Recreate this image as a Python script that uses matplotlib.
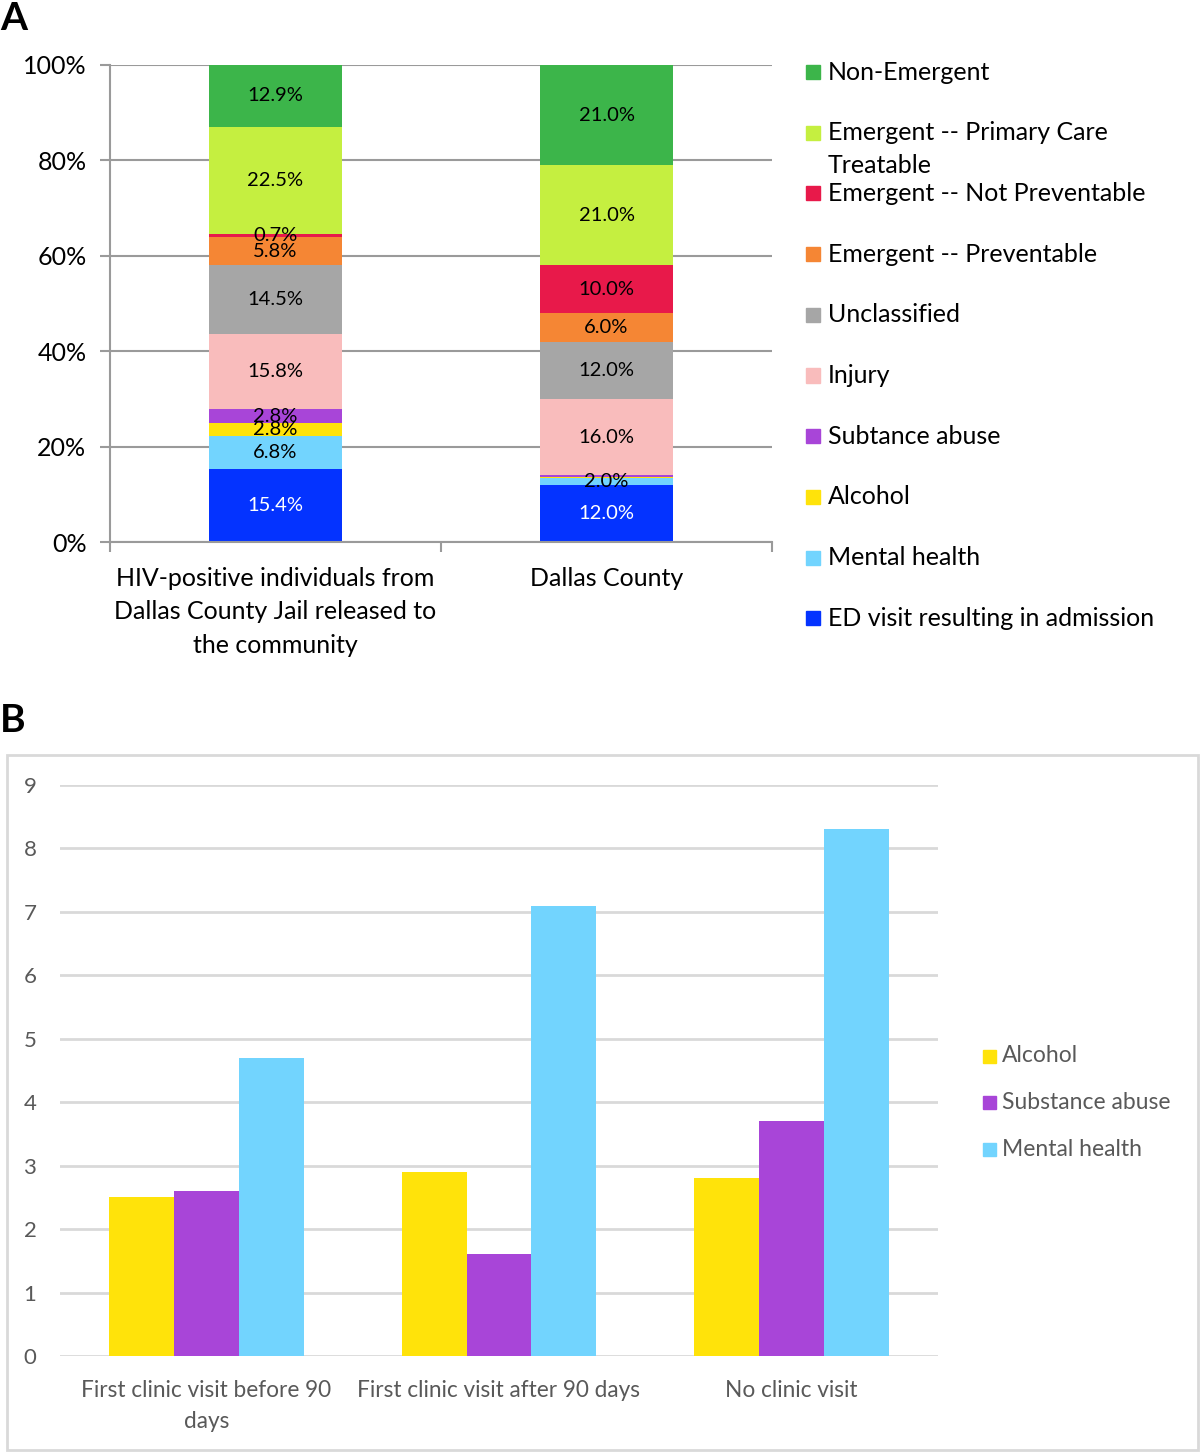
import matplotlib
matplotlib.use("Agg")
import matplotlib.pyplot as plt
import numpy as np
from matplotlib.patches import Rectangle

plt.rcParams["font.family"] = ["Lato", "DejaVu Sans"]

# ---- panel A data (bottom to top) ----
a_groups = ["HIV-positive individuals from\nDallas County Jail released to\nthe community",
            "Dallas County"]
a_cats = ["ED visit resulting in admission", "Mental health", "Alcohol", "Subtance abuse",
          "Injury", "Unclassified", "Emergent -- Preventable", "Emergent -- Not Preventable",
          "Emergent -- Primary Care\nTreatable", "Non-Emergent"]
a_colors = ["#0433ff", "#72d4fe", "#ffe30a", "#a845d8", "#f9bcbc", "#a6a6a6",
            "#f58634", "#e8194a", "#c5ef40", "#3cb54a"]
hiv_vals = [15.4, 6.8, 2.8, 2.8, 15.8, 14.5, 5.8, 0.7, 22.5, 12.9]
dallas_vals = [12.0, 1.4, 0.3, 0.3, 16.0, 12.0, 6.0, 10.0, 21.0, 21.0]
hiv_labels = ["15.4%", "6.8%", "2.8%", "2.8%", "15.8%", "14.5%", "5.8%", "0.7%", "22.5%", "12.9%"]
dallas_labels = ["12.0%", "2.0%", None, None, "16.0%", "12.0%", "6.0%", "10.0%", "21.0%", "21.0%"]

# ---- panel B data ----
b_groups = ["First clinic visit before 90\ndays", "First clinic visit after 90 days", "No clinic visit"]
b_series = ["Alcohol", "Substance abuse", "Mental health"]
b_colors = ["#ffe30a", "#a845d8", "#72d4fe"]
alcohol = [2.5, 2.9, 2.8]
substance = [2.6, 1.6, 3.7]
mental = [4.7, 7.1, 8.3]

W, H = 1200, 1452
fig = plt.figure(figsize=(W / 100, H / 100), dpi=100)


def fx(px):
    return px / W


def fy(py):
    return 1 - py / H


def legend_entry(xsq, yc, size, color, label, fontsize, tcolor, gap):
    # square marker plus text, positioned in pixels of the figure
    fig.add_artist(Rectangle((fx(xsq), fy(yc + size / 2)), fx(size), fy(yc - size / 2) - fy(yc + size / 2),
                             transform=fig.transFigure, color=color))
    fig.text(fx(xsq + size + gap), fy(yc), label, ha="left", va="center",
             fontsize=fontsize, color=tcolor)


# ================= Panel A =================
axA = fig.add_axes([fx(110), fy(542), fx(772) - fx(110), fy(65) - fy(542)])
x = np.arange(len(a_groups))
bottoms = np.zeros(len(a_groups))
for i, cat in enumerate(a_cats):
    vals = np.array([hiv_vals[i], dallas_vals[i]])
    axA.bar(x, vals, 0.40, bottom=bottoms, color=a_colors[i], zorder=2)
    for j, lab in enumerate([hiv_labels[i], dallas_labels[i]]):
        if lab is None:
            continue
        axA.text(x[j], bottoms[j] + vals[j] / 2, lab, ha="center", va="center",
                 fontsize=14.5, color="white" if i == 0 else "black", zorder=3)
    bottoms += vals

axA.set_xlim(-0.5, 1.5)
axA.set_ylim(0, 100)
axA.set_yticks(np.arange(0, 101, 20))
axA.set_yticklabels([f"{v}%" for v in range(0, 101, 20)], fontsize=18)
axA.grid(axis="y", color="#9a9a9a", linewidth=1.5, zorder=0)
axA.set_xticks(x)
axA.set_xticklabels(a_groups, fontsize=18, linespacing=1.55)
axA.set_xticks([-0.5, 0.5, 1.5], minor=True)
axA.tick_params(axis="x", which="major", length=0, pad=18)
axA.tick_params(axis="x", which="minor", length=7, width=1.5, color="#9a9a9a")
axA.tick_params(axis="y", length=7, width=1.5, color="#9a9a9a", pad=10)
for s in ["top", "right"]:
    axA.spines[s].set_visible(False)
for s in ["left", "bottom"]:
    axA.spines[s].set_color("#9a9a9a")
    axA.spines[s].set_linewidth(1.5)

# legend for A (top entry first)
leg_y0, leg_dy = 72, 60.7
for k, idx in enumerate(range(len(a_cats) - 1, -1, -1)):
    yc = leg_y0 + k * leg_dy
    label = a_cats[idx]
    if "\n" in label:
        # two-line entry: first line centred on marker
        first, second = label.split("\n")
        legend_entry(806, yc, 14, a_colors[idx], first, 18, "black", 8)
        fig.text(fx(828), fy(yc + 33), second, ha="left", va="center", fontsize=18)
    else:
        legend_entry(806, yc, 14, a_colors[idx], label, 18, "black", 8)

fig.text(fx(0), fy(18), "A", fontsize=28, fontweight="bold", va="center", ha="left")
fig.text(fx(0), fy(720), "B", fontsize=28, fontweight="bold", va="center", ha="left")

# ================= Panel B =================
fig.add_artist(Rectangle((fx(7), fy(1450)), fx(1198) - fx(7), fy(755) - fy(1450),
                         transform=fig.transFigure, fill=False, edgecolor="#d9d9d9", linewidth=2))
axB = fig.add_axes([fx(60), fy(1356), fx(938) - fx(60), fy(785) - fy(1356)])
xb = np.arange(len(b_groups))
bw = 0.222
for k, (vals, name, col) in enumerate(zip([alcohol, substance, mental], b_series, b_colors)):
    axB.bar(xb + (k - 1) * bw, vals, bw, color=col, label=name, zorder=2)
axB.set_xlim(-0.5, 2.5)
axB.set_ylim(0, 9)
axB.set_yticks(range(10))
axB.grid(axis="y", color="#d9d9d9", linewidth=2, zorder=0)
axB.set_xticks(xb)
axB.set_xticklabels(b_groups, fontsize=16.3, color="#595959", linespacing=1.6)
axB.tick_params(axis="x", length=0, pad=17)
axB.tick_params(axis="y", length=0, pad=17, labelsize=16, labelcolor="#595959")
for s in axB.spines.values():
    s.set_visible(False)

for k, (name, col) in enumerate(zip(b_series, b_colors)):
    legend_entry(983, 1056 + k * 46.5, 13, col, name, 16.5, "#595959", 6)

fig.savefig("out.png", dpi=100)
